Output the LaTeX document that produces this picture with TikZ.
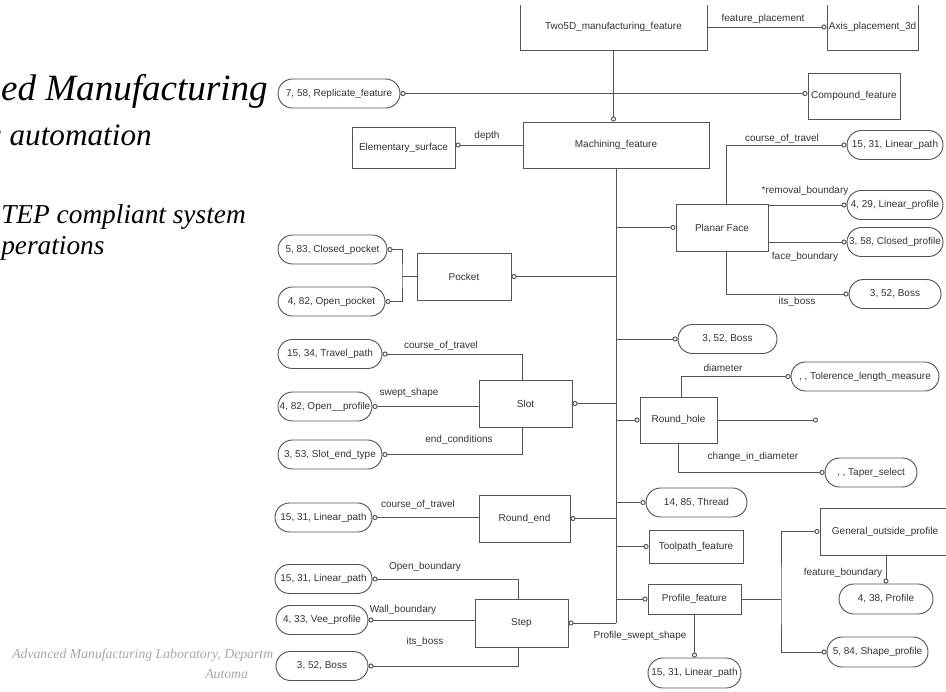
\documentclass[tikz,border=0pt]{standalone}
\usepackage{fontspec}
\setmainfont{Liberation Serif}
\setsansfont{Liberation Sans}
\usetikzlibrary{arrows.meta,shapes.misc}
\definecolor{linec}{HTML}{555555}
\definecolor{txtc}{HTML}{333333}
\definecolor{footc}{HTML}{A6A6A6}
\tikzset{
  Cir/.tip={Circle[length=3.8pt,width=3.8pt,fill=white]},
  conn/.style={draw=linec, line width=0.7pt},
  dfont/.style={font=\sffamily\fontsize{7.5}{9}\selectfont, text=txtc},
  bx/.style 2 args={dfont, draw=linec, line width=0.7pt, fill=white, rectangle, inner sep=0pt, minimum width=#1*0.75pt, minimum height=#2*0.75pt},
  rr/.style 2 args={dfont, draw=linec, line width=0.7pt, fill=white, rounded rectangle, inner sep=0pt, minimum width=#1*0.75pt, minimum height=#2*0.75pt},
  lbl/.style={dfont, inner sep=0pt},
  ttl/.style 2 args={anchor=base east, inner sep=0pt, font=\fontsize{#1}{#2}\selectfont\itshape},
  foot/.style={anchor=base west, inner sep=0pt, text=footc, font=\fontsize{10.3}{12}\selectfont\itshape},
}
\begin{document}
\begin{tikzpicture}[x=0.75pt,y=-0.75pt]
\useasboundingbox (0,0) rectangle (946,692);

% left texts
\node[ttl={27.8}{32}] (t1) at (268,100) {ed Manufacturing};
\node[ttl={23.4}{28}] (t2) at (152,146) {g automation};
\node[ttl={20.5}{25}, anchor=base west] (t3) at (1,223) {TEP compliant system};
\node[ttl={20.5}{25}, anchor=base west] (t4) at (1,254) {perations};
\node[foot] (f1) at (12,658) {Advanced Manufacturing Laboratory, Departm};
\node[foot] (f2) at (205,678) {Automa};

% top boxes (upper edge cut off)
\begin{scope}
\clip (-10,6) rectangle (960,700);
\node[bx={187}{46}] (two5d) at (613.5,27) {Two5D\_manufacturing\_feature};
\node[bx={91}{46}] (axis) at (872.5,27) {Axis\_placement\_3d};
\end{scope}

% entities
\node[bx={186}{46}] (mach) at (616,145) {Machining\_feature};
\node[bx={92}{46}] (comp) at (854,96) {Compound\_feature};
\node[rr={122}{29}] (rep) at (339,93.5) {7, 58, Replicate\_feature};
\node[bx={103}{41}] (elem) at (403.5,147.5) {Elementary\_surface};

\node[bx={92}{47}] (planar) at (722,227.5) {Planar Face};
\node[rr={96}{29}] (lp1) at (895,145) {15, 31, Linear\_path};
\node[rr={96}{29}] (lprof) at (895,205) {4, 29, Linear\_profile};
\node[rr={96}{29}] (cprof) at (895,242) {3, 58, Closed\_profile};
\node[rr={92}{29}] (boss1) at (895,294) {3, 52, Boss};

\node[bx={94}{47}] (pocket) at (464,276.5) {Pocket};
\node[rr={109}{29}] (cpocket) at (332.5,249.5) {5, 83, Closed\_pocket};
\node[rr={107}{29}] (opocket) at (331.5,301.5) {4, 82, Open\_pocket};

\node[bx={93}{47}] (slot) at (525.5,403.5) {Slot};
\node[rr={104}{29}] (travel) at (330,354) {15, 34, Travel\_path};
\node[rr={94}{29}] (oprof) at (325,406.5) {4, 82, Open\_\_profile};
\node[rr={104}{29}] (slotend) at (330,454.5) {3, 53, Slot\_end\_type};

\node[bx={91}{47}] (roundend) at (524.5,518.5) {Round\_end};
\node[rr={97}{29}] (lp2) at (323.5,517.5) {15, 31, Linear\_path};

\node[bx={93}{48}] (step) at (521.5,623) {Step};
\node[rr={97}{29}] (lp3) at (323.5,579) {15, 31, Linear\_path};
\node[rr={92}{29}] (vee) at (322,620) {4, 33, Vee\_profile};
\node[rr={92}{29}] (boss3) at (322,666) {3, 52, Boss};

\node[rr={99}{29}] (boss2) at (727.5,339) {3, 52, Boss};
\node[bx={77}{46}] (roundhole) at (678.5,420) {Round\_hole};
\node[rr={148}{29}] (tol) at (865,376.5) {, , Tolerence\_length\_measure};
\node[rr={92}{29}] (taper) at (871,472.5) {, , Taper\_select};
\node[rr={101}{29}] (thread) at (696.5,502.5) {14, 85, Thread};
\node[bx={94}{33}] (toolpath) at (696,546.5) {Toolpath\_feature};
\node[bx={93}{30}] (profile) at (694.5,599) {Profile\_feature};
\node[bx={130}{47}] (general) at (885,531.5) {General\_outside\_profile};
\node[rr={94}{30}] (profile2) at (886,599) {4, 38, Profile};
\node[rr={101}{30}] (shape) at (877.5,652) {5, 84, Shape\_profile};
\node[rr={93}{30}] (lp4) at (694.5,673) {15, 31, Linear\_path};

% junction coordinates
\coordinate (pj) at (402,276.5);
\coordinate (pj2) at (781,599);
\coordinate (rhend) at (818,421);
\coordinate (spb) at (mach.south |- step.east);

% connectors
\draw[conn,-Cir] (two5d.east) -- (axis.west);
\draw[conn,-Cir] (two5d.south) -- (two5d.south |- mach.north);
\draw[conn,Cir-Cir] (rep.east) -- (comp.west |- rep.east);
\draw[conn,-Cir] (mach.west) -- (mach.west -| elem.east);
\draw[conn] (mach.south) -- (spb);

\draw[conn,-Cir] ([xshift=3pt]planar.north) |- (lp1.west);
\draw[conn,-Cir] (lprof.west -| planar.east) -- (lprof.west);
\draw[conn,-Cir] (cprof.west -| planar.east) -- (cprof.west);
\draw[conn,-Cir] ([xshift=3pt]planar.south) |- (boss1.west);
\draw[conn,-Cir] (mach.south |- planar.west) -- (planar.west);

\draw[conn,Cir-Cir] (cpocket.east) -| (pj) |- (opocket.east);
\draw[conn] (pj) -- (pocket.west);
\draw[conn,Cir-] (pocket.east) -- (pocket.east -| mach.south);

\draw[conn,Cir-] (travel.east) -| ([xshift=-2.6pt]slot.north);
\draw[conn,Cir-] (oprof.east) -- (oprof.east -| slot.west);
\draw[conn,Cir-] (slotend.east) -| ([xshift=-2.6pt]slot.south);
\draw[conn,Cir-] (slot.east) -- (slot.east -| mach.south);

\draw[conn,Cir-] (lp2.east) -- (lp2.east -| roundend.west);
\draw[conn,Cir-] (roundend.east) -- (roundend.east -| mach.south);

\draw[conn,Cir-] (lp3.east) -| ([xshift=-2.6pt]step.north);
\draw[conn,Cir-] (vee.east) -- (vee.east -| step.west);
\draw[conn,Cir-] (boss3.east) -| ([xshift=-2.6pt]step.south);
\draw[conn,Cir-] (step.east) -- (spb);

\draw[conn,-Cir] (mach.south |- boss2.west) -- (boss2.west);
\draw[conn,-Cir] (mach.south |- roundhole.west) -- (roundhole.west);
\draw[conn,-Cir] ([xshift=1.9pt]roundhole.north) |- (tol.west);
\draw[conn,-Cir] (roundhole.east) -- (rhend |- roundhole.east);
\draw[conn,-Cir] (roundhole.south) |- (taper.west);
\draw[conn,-Cir] (mach.south |- thread.west) -- (thread.west);
\draw[conn,-Cir] (mach.south |- toolpath.west) -- (toolpath.west);
\draw[conn,-Cir] (mach.south |- profile.west) -- (profile.west);

\draw[conn] (profile.east) -- (pj2);
\draw[conn,Cir-Cir] (general.west) -| (pj2) |- (shape.west);
\draw[conn,-Cir] (profile2.north |- general.south) -- (profile2.north);
\draw[conn,-Cir] (profile.south) -- (lp4.north);

% labels
\node[lbl] (l1) at (763,19) {feature\_placement};
\node[lbl] (l2) at (487,136) {depth};
\node[lbl] (l3) at (782,139) {course\_of\_travel};
\node[lbl] (l4) at (805,191) {*removal\_boundary};
\node[lbl] (l5) at (805,257) {face\_boundary};
\node[lbl] (l6) at (797,302) {its\_boss};
\node[lbl] (l7) at (441,346) {course\_of\_travel};
\node[lbl] (l8) at (409,393) {swept\_shape};
\node[lbl] (l9) at (459,440) {end\_conditions};
\node[lbl] (l10) at (418,505) {course\_of\_travel};
\node[lbl] (l11) at (425,567) {Open\_boundary};
\node[lbl] (l12) at (403,610) {Wall\_boundary};
\node[lbl] (l13) at (425,642) {its\_boss};
\node[lbl] (l14) at (723,368) {diameter};
\node[lbl] (l15) at (753,457) {change\_in\_diameter};
\node[lbl] (l16) at (843,573) {feature\_boundary};
\node[lbl] (l17) at (640,636) {Profile\_swept\_shape};
\end{tikzpicture}
\end{document}
